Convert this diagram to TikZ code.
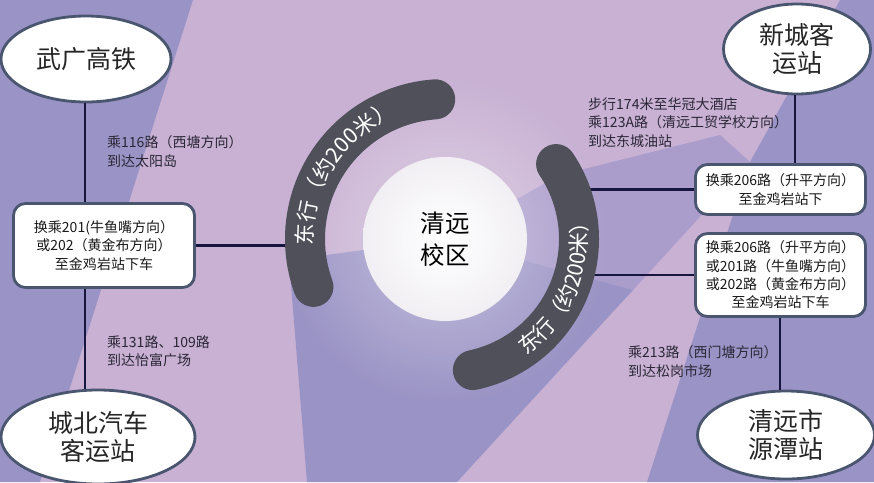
\documentclass[tikz,border=0pt]{standalone}
\usepackage{fontspec}
\newfontfamily\cjk{Noto Sans CJK SC}
\usetikzlibrary{decorations.text,fadings,shapes.geometric}

\definecolor{bgbase}{HTML}{C8B1D3}
\definecolor{bgdark}{HTML}{9A93C5}
\definecolor{bgmid}{HTML}{AA9CCB}
\definecolor{arcgray}{HTML}{50505B}
\definecolor{rim}{HTML}{4A5670}
\definecolor{wirec}{HTML}{16163E}
\definecolor{lbl}{HTML}{2A2636}
\definecolor{discedge}{HTML}{F1EFF3}

\tikzfading[name=glowfade, inner color=transparent!20, outer color=transparent!100]

\begin{document}
\begin{tikzpicture}[x=1pt,y=-1pt,
  station/.style={ellipse, draw=rim, line width=2.8pt, fill=white, inner sep=0pt,
    align=center, text=black!85, font=\cjk\fontsize{25}{28}\selectfont},
  routebox/.style={rectangle, rounded corners=12pt, draw=rim, line width=2.8pt, fill=white,
    inner sep=0pt, align=center, text=black!90, font=\cjk\fontsize{14}{18.3}\selectfont},
  note/.style={anchor=north west, align=left, inner sep=0pt, text=lbl,
    font=\cjk\fontsize{14}{18.5}\selectfont},
  wire/.style={draw=wirec, line width=2.5pt},
  band/.style={draw=arcgray, line width=40pt, line cap=round},
  bandtext/.style={decorate, decoration={text along path, text align=center, text color=white}}]
\useasboundingbox (0,0) rectangle (874,482);
\begin{scope}
\clip (0,0) rectangle (874,482);
% background
\fill[bgbase] (0,0) rectangle (874,482);
\fill[bgdark] (0,0) -- (193,0) -- (40,482) -- (0,482) -- cycle;
\fill[bgdark] (840,0) -- (874,0) -- (874,482) -- (647,482) -- (750,162) -- cycle;
\fill[bgmid] (445,239) -- (560,175) -- (720,135) -- (750,162) -- (633,290) -- cycle;
\fill[bgdark] (307,482) -- (289,260) -- (445,239) -- (633,290) -- (457,482) -- cycle;
\fill[white, path fading=glowfade, fill opacity=0.55] (445,239) circle[radius=165];
\end{scope}

% stations
\node[station, minimum width=170pt, minimum height=86pt] (wg) at (86,59) {武广高铁};
\node[station, minimum width=194pt, minimum height=94pt] (cb) at (98,437) {城北汽车\\客运站};
\node[station, minimum width=147pt, minimum height=90pt] (xc) at (797,49) {新城客\\运站};
\node[station, minimum width=177pt, minimum height=88pt] (yt) at (786,435) {清远市\\源潭站};

% transfer boxes
\node[routebox, minimum width=181pt, minimum height=84pt] (lbox) at (104,245.5)
  {换乘201(牛鱼嘴方向）\\或202（黄金布方向）\\至金鸡岩站下车};
\node[routebox, minimum width=170pt, minimum height=50pt] (rb1) at (780.5,189.5)
  {换乘206路（升平方向）\\至金鸡岩站下};
\node[routebox, minimum width=170pt, minimum height=83pt] (rb2) at (780.5,275)
  {换乘206路（升平方向）\\或201路（牛鱼嘴方向）\\或202路（黄金布方向）\\至金鸡岩站下车};

% route notes
\node[note] (n1) at (107,135.5) {乘116路（西塘方向）\\到达太阳岛};
\node[note] (n2) at (107,335.5) {乘131路、109路\\到达怡富广场};
\node[note] (n3) at (588,97.5) {步行174米至华冠大酒店\\乘123A路（清远工贸学校方向）\\到达东城油站};
\node[note] (n4) at (628,345.5) {乘213路（西门塘方向）\\到达松岗市场};

% connector ends inside the bands
\coordinate (arcL) at (305,245.5);
\coordinate (arcR1) at (570,189.5);
\coordinate (arcR2) at (574,275);
\coordinate (xl) at (85,0);

% connectors
\draw[wire] (xl |- wg.south) -- (xl |- lbox.north);
\draw[wire] (xl |- lbox.south) -- (xl |- cb.north);
\draw[wire] (lbox.east) -- (lbox.east -| arcL);
\draw[wire] (xc.south -| 795,0) -- (rb1.north -| 795,0);
\draw[wire] (rb1.west) -- (rb1.west -| arcR1);
\draw[wire] (rb2.west) -- (rb2.west -| arcR2);
\draw[wire] (rb2.south -| 780,0) -- (yt.north -| 780,0);

% bands with text
\coordinate (c) at (445,239);
\draw[band] (c) ++(-200:140) arc[start angle=-200, end angle=-94, radius=140];
\draw[band] (c) ++(78:134) arc[start angle=78, end angle=-34, radius=134];
\path[bandtext, decoration={text={|\cjk\fontsize{21.5}{22}\selectfont|东行（约200米）}}]
  (c) ++(-200:132) arc[start angle=-200, end angle=-94, radius=132];
\path[bandtext, decoration={text={|\cjk\fontsize{21.5}{22}\selectfont|东行（约200米）}}]
  (c) ++(78:142) arc[start angle=78, end angle=-34, radius=142];

% campus disc
\node[circle, minimum size=164pt, inner sep=0pt, inner color=white, outer color=discedge,
  align=center, text=black, font=\cjk\fontsize{24.5}{32}\selectfont] (campus) at (c) {清远\\校区};
\end{tikzpicture}
\end{document}
